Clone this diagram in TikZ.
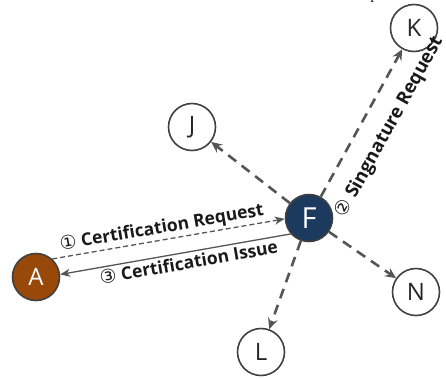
\documentclass[tikz,border=0pt]{standalone}
\usepackage{fontspec}
\setmainfont{Open Sans}
\newfontfamily\circfont{DejaVu Sans}
\newfontfamily\capfont{Liberation Serif}
\usetikzlibrary{arrows.meta}
\definecolor{nodeedge}{HTML}{404040}
\definecolor{linkgray}{HTML}{555555}
\definecolor{hubblue}{HTML}{1B3A5E}
\definecolor{rust}{HTML}{984809}
\newcommand{\numtag}[1]{{\mdseries\circfont\fontsize{19}{19}\selectfont #1}}
\begin{document}
\begin{tikzpicture}[x=1pt,y=-1pt,
  peer/.style={circle, draw=nodeedge, line width=1.6pt, fill=white,
    minimum size=47pt, inner sep=0pt, text=black!85,
    font=\fontsize{24}{24}\selectfont},
  hub/.style={peer, fill=hubblue, text=white, font=\fontsize{29}{29}\selectfont},
  origin/.style={peer, fill=rust, text=white},
  relay/.style={draw=linkgray, line width=2.6pt, dash pattern=on 10pt off 7pt,
    -{Stealth[length=11pt,width=10pt,inset=4pt]}},
  msg/.style={draw=linkgray, line width=1.3pt,
    -{Stealth[length=10pt,width=8pt,inset=3pt]}},
  tag/.style={font=\bfseries\fontsize{17.5}{17.5}\selectfont, inner sep=2pt, text=black!90}
]
\useasboundingbox (0,0) rectangle (446,378);

% peers around the hub
\node[peer]   (J) at (192,127) {J};
\node[peer]   (K) at (414,28)  {K};
\node[peer]   (L) at (261,352) {L};
\node[peer]   (N) at (416,292) {N};
\node[hub]    (F) at (309,218) {F};
\node[origin] (A) at (36,277)  {A};

% relays from the hub
\draw[relay] (F) -- (J);
\draw[relay] (F) -- (L);
\draw[relay] (F) -- (N);
\draw[relay] (F) -- (K)
  node[tag, pos=0.56, sloped, below=14pt, font=\bfseries\fontsize{18.5}{18.5}\selectfont]
  {\numtag{②} Singnature Request};

% request and issue between A and F
\draw[msg, dash pattern=on 5pt off 3pt] (A.48) -- (F.182)
  node[tag, pos=0.48, sloped, above=0pt] {\numtag{①} Certification Request};
\draw[msg] (F.221) -- (A.6)
  node[tag, pos=0.45, sloped, below=0pt] {\numtag{③} Certification Issue};

% cut-off letter at the top edge
\node[font=\capfont\fontsize{14}{14}\selectfont, anchor=base, inner sep=0pt] (cut) at (374,-1) {p};
\end{tikzpicture}
\end{document}
